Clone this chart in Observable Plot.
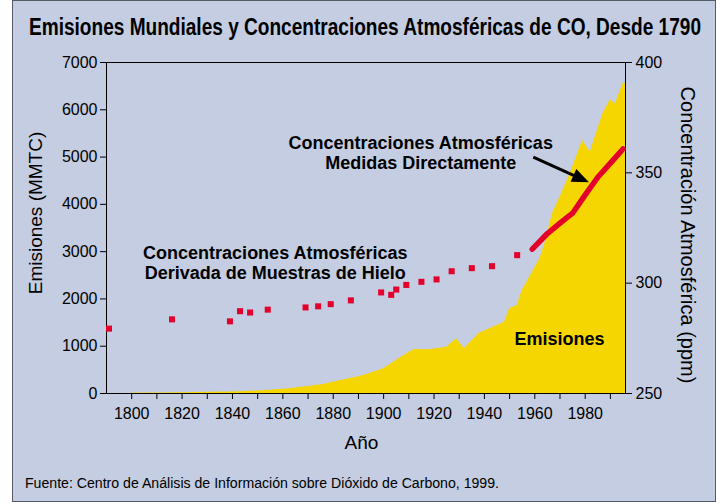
<!DOCTYPE html>
<html>
<head>
<meta charset="utf-8">
<script src="https://cdn.jsdelivr.net/npm/d3@7"></script>
<script src="https://cdn.jsdelivr.net/npm/@observablehq/plot@0.6"></script>
<style>
  html, body { margin: 0; padding: 0; background: #ffffff; }
  body { width: 718px; height: 502px; position: relative; overflow: hidden; font-family: "Liberation Sans", Arial, sans-serif; }
  #frame { position: absolute; left: 12px; top: 0; width: 702px; height: 500px; background: #c4cde1; border: 1px solid #555b66; }
  #chart { position: absolute; left: 0; top: 0; }
  #title { position: absolute; left: 29px; top: 16px; white-space: nowrap; font-family: "Liberation Sans Narrow", "Arial Narrow", "Liberation Sans", Arial, sans-serif; font-weight: bold; font-size: 23px; color: #000; transform-origin: 0 0; line-height: 1; }
  #footer { position: absolute; left: 25px; top: 476px; white-space: nowrap; font-size: 14px; color: #000; line-height: 1; transform-origin: 0 0; }
</style>
</head>
<body>
<div id="frame"></div>
<div id="chart"></div>
<div id="title">Emisiones Mundiales y Concentraciones Atmosféricas de CO, Desde 1790</div>
<div id="footer">Fuente: Centro de Análisis de Información sobre Dióxido de Carbono, 1999.</div>
<script>
// ---- Data ----
const emisionYears  = [1800,1810,1820,1830,1840,1850,1860,1865,1870,1876,1880,1883,1890,1893,1900,1907,1912,1918,1925,1929,1932,1938,1943,1948,1950,1953,1955,1962,1964,1967,1970,1974,1979,1982,1987,1990,1992,1995,1996];
const emisionValues = [8,10,14,24,33,54,91,115,147,190,236,275,356,395,522,768,930,924,979,1156,945,1275,1389,1508,1790,1860,2178,2848,3165,3800,4150,4645,5350,5100,5913,6210,6125,6548,6560];

const hieloYears = [1791,1816,1839,1843,1847,1854,1869,1874,1879,1887,1899,1903,1905,1909,1915,1921,1927,1935,1943,1953];
const hieloPpm   = [279.4,283.6,282.7,287.3,286.7,288.0,289.0,289.5,290.5,292.2,295.8,294.7,297.1,299.2,300.6,301.7,305.4,306.8,307.7,312.7];

const directoYears = [1959,1965,1970,1975,1980,1985,1990,1995];
const directoPpm   = [315.4,322.5,327.2,331.7,340.0,348.0,354.4,360.8];

const ticksEmisiones = [0,1000,2000,3000,4000,5000,6000,7000];
const ticksPpm = [250,300,350,400];
const ticksAnios = d3.range(1800, 1991, 10);

const etiquetas = [
  {year: 1857, value: 2777, text: "Concentraciones Atmosféricas\nDerivada de Muestras de Hielo"},
  {year: 1914.7, value: 5103, text: "Concentraciones Atmosféricas\nMedidas Directamente"},
  {year: 1969.8, value: 1169, text: "Emisiones"}
];
const flecha = {x1: 1959.4, y1: 4997, x2: 1981.5, y2: 4468};

// ---- Layout ----
const W = 718, H = 502, ML = 106, MR = 93, MT = 62, MB = 109;
const xDomain = [1790, 1996], yDomain = [0, 7000];
const toE = p => (p - 250) * 7000 / 150;
const toP = e => Math.round(e * 150 / 7000 + 250);

const emisiones = emisionYears.map((year, i) => ({year, value: emisionValues[i]}));
const hielo = hieloYears.map((year, i) => ({year, e: toE(hieloPpm[i])}));
const directo = directoYears.map((year, i) => ({year, e: toE(directoPpm[i])}));

// arrow geometry in screen space (for rotation & shortening of shaft)
const kx = (W - ML - MR) / (xDomain[1] - xDomain[0]);
const ky = (H - MT - MB) / (yDomain[1] - yDomain[0]);
const sdx = (flecha.x2 - flecha.x1) * kx, sdy = -(flecha.y2 - flecha.y1) * ky;
const slen = Math.hypot(sdx, sdy);
const ang = Math.atan2(sdy, sdx) * 180 / Math.PI;
const frac = 1 - 12 / slen;
const shaft = [{x1: flecha.x1, y1: flecha.y1, x2: flecha.x1 + (flecha.x2 - flecha.x1) * frac, y2: flecha.y1 + (flecha.y2 - flecha.y1) * frac}];
const punta = {draw(ctx) { ctx.moveTo(0, 0); ctx.lineTo(-7, 17); ctx.lineTo(7, 17); ctx.closePath(); }};

const RED = "#e3002b", YELLOW = "#f6d600";

const plot = Plot.plot({
  width: W, height: H,
  marginLeft: ML, marginRight: MR, marginTop: MT, marginBottom: MB,
  style: {background: "transparent", fontFamily: "'Liberation Sans', Arial, sans-serif", color: "#000", overflow: "visible"},
  x: {domain: xDomain},
  y: {domain: yDomain},
  marks: [
    Plot.areaY(emisiones, {x: "year", y: "value", fill: YELLOW}),
    Plot.frame({stroke: "#000", strokeWidth: 1}),
    Plot.axisY(ticksEmisiones, {anchor: "left", tickSize: 6, tickPadding: 3, fontSize: 16, label: null, tickFormat: d => String(d)}),
    Plot.axisY(ticksPpm.map(toE), {anchor: "right", tickSize: 6, tickPadding: 4, fontSize: 16, label: null, tickFormat: e => String(toP(e))}),
    Plot.axisX(ticksAnios, {tickSize: 6, tickPadding: 8, fontSize: 16, label: null, tickFormat: d => (d % 20 === 0 && d <= 1980) ? String(d) : ""}),
    Plot.line(directo, {x: "year", y: "e", stroke: RED, strokeWidth: 5.5, strokeLinejoin: "round"}),
    Plot.dot(hielo, {x: "year", y: "e", symbol: "square", r: 3.4, fill: RED}),
    Plot.link(shaft, {x1: "x1", y1: "y1", x2: "x2", y2: "y2", stroke: "#000", strokeWidth: 3}),
    Plot.dot([flecha], {x: "x2", y: "y2", symbol: punta, r: 5, fill: "#000", rotate: 90 + ang}),
    Plot.text(etiquetas, {x: "year", y: "value", text: "text", fontSize: 18, fontWeight: "bold", lineHeight: 1.12, textAnchor: "middle", fill: "#000"}),
    Plot.text(["Emisiones (MMTC)"], {frameAnchor: "left", textAnchor: "middle", lineAnchor: "middle", dx: -71, dy: -15, rotate: -90, fontSize: 19, fill: "#000"}),
    Plot.text(["Concentración Atmosférica (ppm)"], {frameAnchor: "right", textAnchor: "middle", lineAnchor: "middle", dx: 62, dy: 7, rotate: 90, fontSize: 20, fill: "#000"}),
    Plot.text(["Año"], {frameAnchor: "bottom", textAnchor: "middle", lineAnchor: "middle", dx: -4.5, dy: 49, fontSize: 19, fill: "#000"})
  ]
});
document.getElementById("chart").appendChild(plot);

// fit title and footer to the widths measured in the reference
const t = document.getElementById("title");
t.style.transform = `scaleX(${672 / t.getBoundingClientRect().width})`;
const f = document.getElementById("footer");
f.style.transform = `scaleX(${474 / f.getBoundingClientRect().width})`;
</script>
</body>
</html>
